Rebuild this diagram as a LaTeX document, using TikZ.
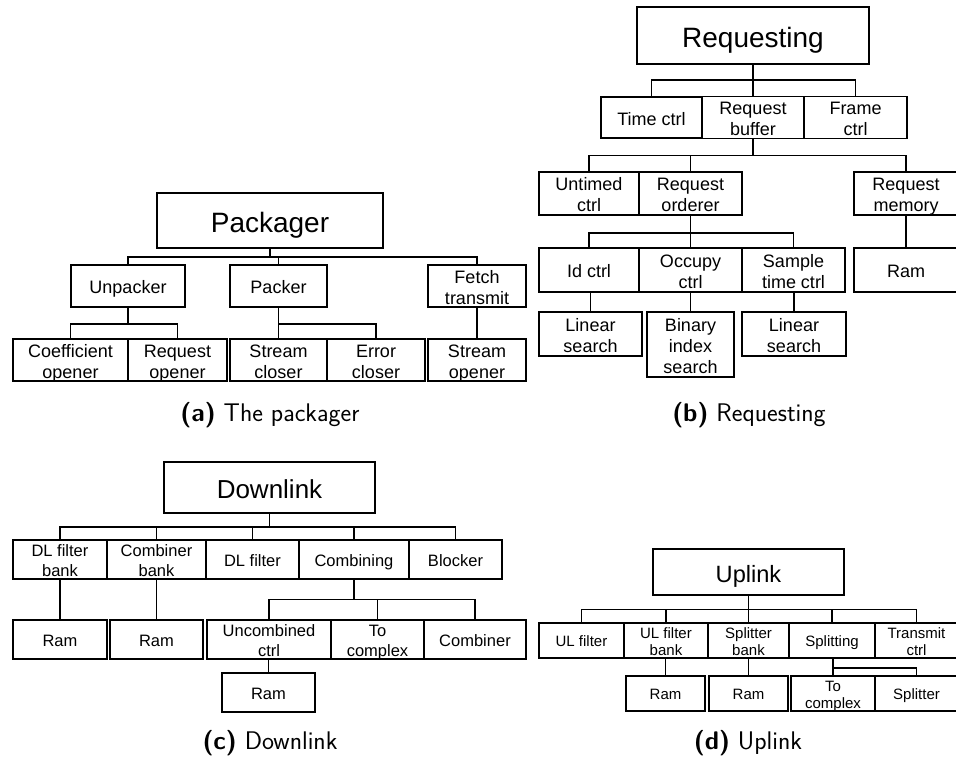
\documentclass[tikz,border=0pt]{standalone}
\usepackage{fontspec}
\newfontfamily\boxfont{Liberation Sans}
\newcommand\lbl[1]{\raisebox{-0.2em}[\height][\depth]{\begin{tabular}{@{}c@{}}#1\end{tabular}}}
\newcommand\bxn[7]{\node[#1,minimum width={#5-#3},minimum height={#6-#4}] (#2) at ({(#3+#5)/2},{(#4+#6)/2}) {\lbl{#7}};}
\begin{document}
\begin{tikzpicture}[x=1pt,y=-1pt,line width=1.1pt,
  bx/.style={draw,inner sep=0pt,outer sep=0pt,
    font=\boxfont\fontsize{18}{21}\selectfont},
  ttl/.style={bx,font=\boxfont\fontsize{28}{32}\selectfont},
  bxc/.style={bx,font=\boxfont\fontsize{16.5}{19.5}\selectfont},
  ttlc/.style={bx,font=\boxfont\fontsize{26}{30}\selectfont},
  bxd/.style={bx,font=\boxfont\fontsize{15}{17.3}\selectfont},
  ttld/.style={bx,font=\boxfont\fontsize{23.6}{27}\selectfont},
  captxt/.style={anchor=base,inner sep=0pt,font=\sffamily\fontsize{25.5}{29}\selectfont}]
\useasboundingbox (0,0) rectangle (956,761);
\clip (0,0) rectangle (956,761);
% ---------------- (a) ----------------
\bxn{ttl}{pk}{157}{193}{383}{248}{Packager}
\bxn{bx}{unp}{71}{265}{185}{307}{Unpacker}
\bxn{bx}{pck}{230}{265}{327}{307}{Packer}
\bxn{bx}{ft}{428}{265}{526}{307}{Fetch\\transmit}
\bxn{bx}{co}{13}{339}{128}{381}{Coefficient\\opener}
\bxn{bx}{ro}{128}{339}{227}{381}{Request\\opener}
\bxn{bx}{sc}{230}{339}{327}{381}{Stream\\closer}
\bxn{bx}{ec}{327}{339}{425}{381}{Error\\closer}
\bxn{bx}{so}{428}{339}{526}{381}{Stream\\opener}
\draw (pk.south) -- ++(0,9) coordinate (ba);
\draw (unp.north) |- (ba);
\draw (pck.north) |- (ba);
\draw (ft.north) |- (ba);
\draw (unp.south) -- ++(0,17) coordinate (bu);
\draw (co.north) |- (bu);
\draw (ro.north) |- (bu);
\draw (pck.south) -- ++(0,17) coordinate (bp);
\draw (sc.north) |- (bp);
\draw (ec.north) |- (bp);
\draw (so.north) -- (so.north |- ft.south);
\node[captxt] (capa) at (270,421) {\textbf{(a)} The packager};
% ---------------- (b) ----------------
\bxn{ttl}{rq}{637}{7}{869}{64}{Requesting}
\bxn{bx}{tc}{601}{97}{702}{138}{Time ctrl}
\bxn{bx}{rb}{702}{97}{804}{138}{Request\\buffer}
\bxn{bx}{fc}{804}{97}{907}{138}{Frame\\ctrl}
\bxn{bx}{utc}{539}{172}{639}{215}{Untimed\\ctrl}
\bxn{bx}{ror}{639}{172}{742}{215}{Request\\orderer}
\bxn{bx}{rm}{854}{172}{958}{215}{Request\\memory}
\bxn{bx}{idc}{539}{248}{639}{292}{Id ctrl}
\bxn{bx}{occ}{639}{248}{742}{292}{Occupy\\ctrl}
\bxn{bx}{stc}{742}{248}{845}{292}{Sample\\time ctrl}
\bxn{bx}{ramb}{854}{248}{958}{292}{Ram}
\bxn{bx}{ls1}{539}{312}{642}{356}{Linear\\search}
\bxn{bx}{bis}{647}{312}{734}{377}{Binary\\index\\search}
\bxn{bx}{ls2}{742}{312}{846}{356}{Linear\\search}
\draw (rq.south) -- ++(0,16) coordinate (bq);
\draw (tc.north) |- (bq);
\draw (rb.north) |- (bq);
\draw (fc.north) |- (bq);
\draw (rb.south) -- ++(0,17) coordinate (bb);
\draw (utc.north) |- (bb);
\draw (ror.north) |- (bb);
\draw (rm.north) |- (bb);
\draw (ror.south) -- ++(0,18) coordinate (bo);
\draw (idc.north) |- (bo);
\draw (occ.north) |- (bo);
\draw (stc.north) |- (bo);
\draw (ramb.north) -- (ramb.north |- rm.south);
\draw (ls1.north) -- (ls1.north |- idc.south);
\draw (bis.north) -- (bis.north |- occ.south);
\draw (ls2.north) -- (ls2.north |- stc.south);
\node[captxt] (capb) at (749,421) {\textbf{(b)} Requesting};
% ---------------- (c) ----------------
\bxn{ttlc}{dl}{164}{462}{375}{513}{Downlink}
\bxn{bxc}{dfb}{13}{540}{107}{579}{DL filter\\bank}
\bxn{bxc}{cb}{107}{540}{206}{579}{Combiner\\bank}
\bxn{bxc}{df}{206}{540}{299}{579}{DL filter}
\bxn{bxc}{cmb}{299}{540}{409}{579}{Combining}
\bxn{bxc}{blk}{409}{540}{502}{579}{Blocker}
\bxn{bxc}{ram1}{13}{620}{107}{659}{Ram}
\bxn{bxc}{ram2}{110}{620}{203}{659}{Ram}
\bxn{bxc}{ucc}{207}{620}{331}{659}{Uncombined\\ctrl}
\bxn{bxc}{tcx}{331}{620}{424}{659}{To\\complex}
\bxn{bxc}{cbr}{424}{620}{526}{659}{Combiner}
\bxn{bxc}{ram3}{222}{673}{315}{712}{Ram}
\draw (dl.south) -- ++(0,14) coordinate (bd);
\draw (dfb.north) |- (bd);
\draw (cb.north) |- (bd);
\draw (df.north) |- (bd);
\draw (cmb.north) |- (bd);
\draw (blk.north) |- (bd);
\draw (ram1.north) -- (ram1.north |- dfb.south);
\draw (ram2.north) -- (ram2.north |- cb.south);
\draw (cmb.south) -- ++(0,20.3) coordinate (bc);
\draw (ucc.north) |- (bc);
\draw (tcx.north) |- (bc);
\draw (cbr.north) |- (bc);
\draw (ram3.north) -- (ram3.north |- ucc.south);
\node[captxt] (capc) at (270,749) {\textbf{(c)} Downlink};
% ---------------- (d) ----------------
\bxn{ttld}{ul}{653}{549}{844}{595}{Uplink}
\bxn{bxd}{ulf}{539}{623}{624}{658}{UL filter}
\bxn{bxd}{ulfb}{624}{623}{708}{658}{UL filter\\bank}
\bxn{bxd}{spb}{708}{623}{789}{658}{Splitter\\bank}
\bxn{bxd}{spl}{789}{623}{875}{658}{Splitting}
\bxn{bxd}{trc}{875}{623}{958}{658}{Transmit\\ctrl}
\bxn{bxd}{r1}{626}{676}{705}{711}{Ram}
\bxn{bxd}{r2}{709}{676}{788}{711}{Ram}
\bxn{bxd}{tcx2}{791}{676}{875}{711}{To\\complex}
\bxn{bxd}{spt}{875}{676}{958}{711}{Splitter}
\draw (ul.south) -- ++(0,14.5) coordinate (bl);
\draw (ulf.north) |- (bl);
\draw (ulfb.north) |- (bl);
\draw (spb.north) |- (bl);
\draw (spl.north) |- (bl);
\draw (trc.north) |- (bl);
\draw (r1.north) -- (r1.north |- ulfb.south);
\draw (r2.north) -- (r2.north |- spb.south);
\draw (tcx2.north) -- (tcx2.north |- spl.south);
\coordinate (bs) at (tcx2.north |- 0,668);
\draw (spt.north) |- (bs);
\node[captxt] (capd) at (748,749) {\textbf{(d)} Uplink};
\end{tikzpicture}
\end{document}
